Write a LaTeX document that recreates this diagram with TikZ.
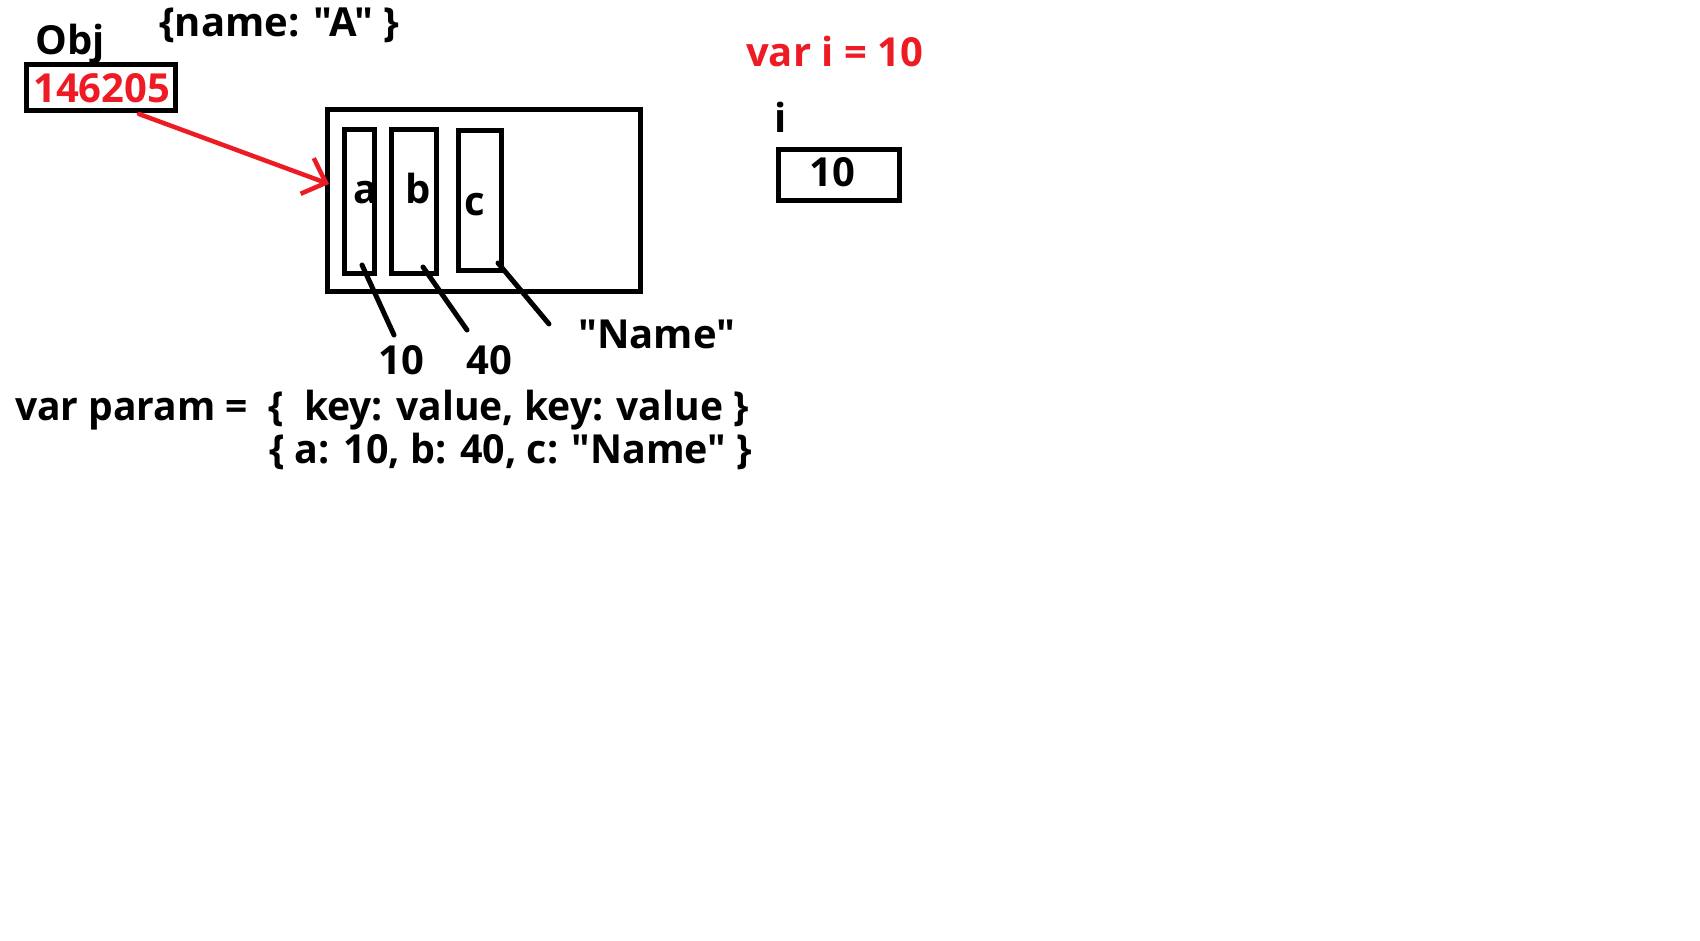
\documentclass[tikz,border=0pt]{standalone}
\usepackage{fontspec}
\setmainfont{Open Sans}[Ligatures=TeXOff]
\usetikzlibrary{arrows.meta}
\definecolor{paintred}{HTML}{ED1C24}
\newcommand{\dq}{{\char34}}
\begin{document}
\begin{tikzpicture}[x=1pt,y=-1pt,
  box/.style={draw, line width=5pt, inner sep=0pt},
  txt/.style={inner sep=0pt, anchor=base west, font=\fontsize{40}{48}\selectfont\bfseries},
  link/.style={line width=5pt, line cap=round},
  ptrarrow/.style={draw=paintred, line width=4.5pt, line cap=round, -{Straight Barb[length=20pt, width=38pt, line width=4.5pt]}}]
\useasboundingbox (0,0) rectangle (1700,940);
% pointer box
\node[txt] (objlbl) at (35,54) {Obj};
\node[txt] (objlit) at (159,36) {\{name: \dq A\dq\ \}};
\node[box, minimum width=149pt, minimum height=46pt] (ptr) at (100.5,87) {};
\node[txt, text=paintred] (addr) at (33,102) {146205};
% object in heap
\node[box, minimum width=313pt, minimum height=182pt] (obj) at (483.5,200) {};
\node[box, minimum width=30pt, minimum height=144pt] (sa) at (359,201) {};
\node[box, minimum width=45pt, minimum height=144pt] (sb) at (413.5,201) {};
\node[box, minimum width=43pt, minimum height=140pt] (sc) at (479.5,200) {};
\node[txt] (la) at (353,203) {a};
\node[txt] (lb) at (405,203) {b};
\node[txt] (lc) at (464,215) {c};
% values
\node[txt] (va) at (378,374) {10};
\node[txt] (vb) at (466,374) {40};
\node[txt] (vc) at (578,348) {\dq Name\dq};
\coordinate (a1) at (362,265); \coordinate (a2) at (394,335);
\coordinate (b1) at (423,267); \coordinate (b2) at (467,330);
\coordinate (c1) at (498,263); \coordinate (c2) at (549,324);
\draw[link] (a1) -- (a2);
\draw[link] (b1) -- (b2);
\draw[link] (c1) -- (c2);
% arrow
\coordinate (p1) at (139,114);
\coordinate (p2) at (329,184);
\draw[ptrarrow] (p1) -- (p2);
% code lines
\node[txt] (l1) at (15,420) {\scalebox{0.975}[1]{var param =\ \ \{\ \ key: value, key: value \}}};
\node[txt] (l2) at (269,463) {\scalebox{0.985}[1]{\{ a: 10, b: 40, c: \dq Name\dq\ \}}};
% primitive
\node[txt, text=paintred] (vi) at (746,66) {var i = 10};
\node[txt] (ilbl) at (774,132) {i};
\node[box, minimum width=121pt, minimum height=51pt] (ibox) at (838.5,174.5) {};
\node[txt] (ival) at (809,186) {10};
\end{tikzpicture}
\end{document}
